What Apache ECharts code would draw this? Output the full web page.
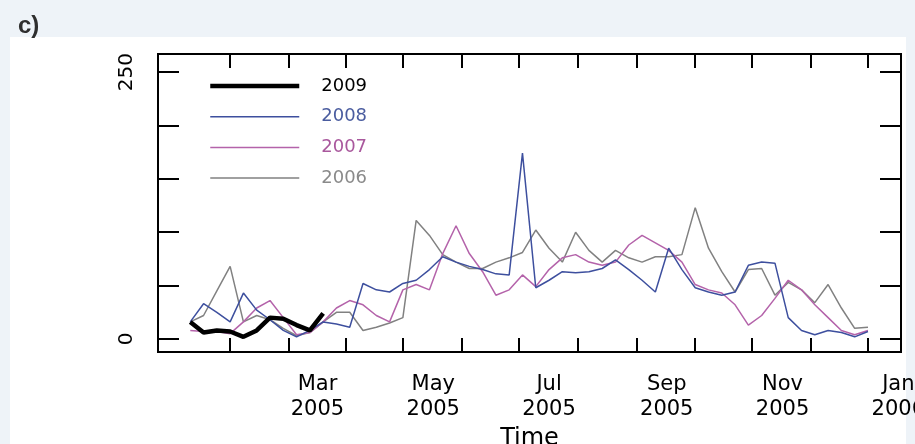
<!DOCTYPE html>
<html><head><meta charset="utf-8">
<script src="https://cdn.jsdelivr.net/npm/echarts@6/dist/echarts.min.js"></script>
<style>html,body{margin:0;padding:0;background:#eef3f8}#c{width:915px;height:444px}</style>
</head><body><div id="c"></div>
<script>
// ---- data (x in days of 2005, weekly observations) ----
const firstWeekDay = -8;
const weekStep = 7;
const values2009 = [16, 6, 8, 7, 2, 8, 20, 19, 13, 8, 24];
const values2008 = [16, 33, 25, 16, 43, 27, 18, 8, 2, 8, 16, 14, 11, 52, 46, 44, 52, 55, 65, 77,
  72, 68, 65, 61, 60, 174, 48, 55, 63, 62, 63, 66, 74, 65, 55, 44, 85, 65, 48, 44,
  41, 44, 69, 72, 71, 20, 8, 4, 8, 6, 2, 7];
const values2007 = [8, 7, 7, 5, 16, 29, 36, 20, 4, 6, 16, 29, 36, 32, 22, 16, 46, 51, 46, 80,
  106, 80, 63, 41, 46, 60, 49, 65, 76, 79, 72, 69, 72, 88, 97, 90, 83, 72, 51, 46,
  43, 32, 13, 22, 38, 55, 46, 32, 20, 8, 4, 8];
const values2006 = [16, 22, 45, 68, 16, 22, 18, 10, 3, 6, 16, 25, 25, 8, 11, 15, 20, 111, 97, 79,
  72, 66, 66, 72, 76, 81, 102, 85, 72, 100, 83, 72, 83, 76, 72, 77, 77, 79, 123, 85,
  63, 44, 65, 66, 41, 53, 46, 34, 51, 29, 10, 11];
const seriesNames = ['2009', '2008', '2007', '2006'];
const xTickDays = [13, 44, 74, 104, 135, 165, 196, 227, 258, 288, 319, 349];
const xLabelDays = [59, 120, 181, 243, 304, 365];
const xLabelTexts = ['Mar\n2005', 'May\n2005', 'Jul\n2005', 'Sep\n2005', 'Nov\n2005', 'Jan\n2006'];
const yTickValues = [0, 50, 100, 150, 200, 250];
const yLabelValues = [0, 250];
const xAxisName = 'Time';
const panelLabel = 'c)';

// ---- build ----
function toPoints(vals) {
  return vals.map((v, i) => [firstWeekDay + weekStep * i, v]);
}
const colors = {'2009': '#000000', '2008': '#3d4f9e', '2007': '#b463aa', '2006': '#818181'};
const textColors = {'2009': '#000000', '2008': '#4a5c9f', '2007': '#a9589d', '2006': '#8a8a8a'};
const widths = {'2009': 4.5, '2008': 1.5, '2007': 1.5, '2006': 1.5};
const valuesByName = {'2009': values2009, '2008': values2008, '2007': values2007, '2006': values2006};
const drawOrder = ['2006', '2007', '2008', '2009'];

const FONT = 'DejaVu Sans';
const chart = echarts.init(document.getElementById('c'), null, {renderer: 'canvas'});
const tickStyle = {color: '#000', width: 2};
const hiddenLine = {show: false, onZero: false};
chart.setOption({
  animation: false,
  backgroundColor: '#eef3f8',
  title: {text: panelLabel, left: 13, top: 9,
    textStyle: {fontSize: 24, fontWeight: 'bold', color: '#2e2e2e', fontFamily: 'Liberation Sans'}},
  graphic: [{type: 'rect', left: 10, top: 37, z: -100, silent: true,
    shape: {width: 896, height: 407}, style: {fill: '#ffffff'}}],
  grid: {left: 158, top: 54, width: 743, height: 298, show: true, containLabel: false,
    outerBoundsMode: 'none',
    borderColor: '#000', borderWidth: 2, backgroundColor: '#fff'},
  legend: {
    orient: 'vertical', left: 203, top: 72, padding: 5,
    itemWidth: 89, itemHeight: 14, itemGap: 12.7,
    itemStyle: {opacity: 0},
    textStyle: {fontFamily: FONT, fontSize: 18, lineHeight: 14, padding: [0, 0, 0, 17]},
    data: seriesNames.map(n => ({name: n, textStyle: {color: textColors[n]},
      lineStyle: {width: widths[n], color: colors[n]}}))
  },
  xAxis: [{
    type: 'value', position: 'bottom', min: -25, max: 366.4,
    axisLine: hiddenLine, splitLine: {show: false},
    axisTick: {show: true, inside: true, length: 14, lineStyle: tickStyle, customValues: xTickDays},
    axisLabel: {customValues: xLabelDays, margin: 20, fontFamily: FONT, fontSize: 21, lineHeight: 25,
      color: '#000', hideOverlap: false, showMinLabel: true, showMaxLabel: true,
      formatter: v => xLabelTexts[xLabelDays.indexOf(v)] || ''},
    name: xAxisName, nameLocation: 'middle', nameGap: 65,
    nameTextStyle: {fontFamily: FONT, fontSize: 24, color: '#000'}
  }, {
    type: 'value', position: 'top', min: -25, max: 366.4,
    axisLine: hiddenLine, splitLine: {show: false},
    axisTick: {show: true, inside: true, length: 14, lineStyle: tickStyle, customValues: xTickDays},
    axisLabel: {show: false}
  }],
  yAxis: [{
    type: 'value', position: 'left', min: -12.2, max: 266.9,
    axisLine: hiddenLine, splitLine: {show: false},
    axisTick: {show: true, inside: true, length: 21, lineStyle: tickStyle, customValues: yTickValues},
    axisLabel: {customValues: yLabelValues, rotate: 90, margin: 21, fontFamily: FONT, fontSize: 20,
      color: '#000', showMinLabel: true, showMaxLabel: true}
  }, {
    type: 'value', position: 'right', min: -12.2, max: 266.9,
    axisLine: hiddenLine, splitLine: {show: false},
    axisTick: {show: true, inside: true, length: 21, lineStyle: tickStyle, customValues: yTickValues},
    axisLabel: {show: false}
  }],
  series: drawOrder.map(n => ({
    name: n, type: 'line', xAxisIndex: 0, yAxisIndex: 0,
    data: toPoints(valuesByName[n]),
    symbol: 'none', showSymbol: false,
    lineStyle: {color: colors[n], width: widths[n]},
    itemStyle: {color: colors[n]},
    z: n === '2009' ? 5 : 2
  }))
});
</script></body></html>
